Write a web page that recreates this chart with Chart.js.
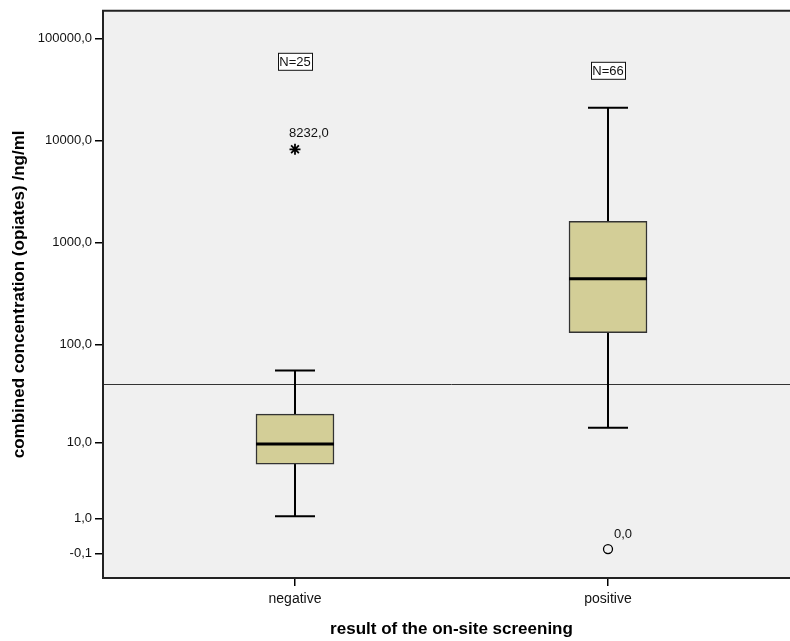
<!DOCTYPE html>
<html>
<head>
<meta charset="utf-8">
<script src="https://cdn.jsdelivr.net/npm/chart.js@4.4.0/dist/chart.umd.min.js"></script>
<style>
  html, body { margin: 0; padding: 0; background: #fff; overflow: hidden; }
  #wrap { width: 800px; height: 641px; }
</style>
</head>
<body>
<div id="wrap"><canvas id="boxChart" width="800" height="641"></canvas></div>
<script>
// data (ng/ml)
const categories = ['negative', 'positive'];
const groupN = [25, 66];
const whiskerLow = [1.1, 14.4];
const q1 = [5.8, 131];
const median = [9.7, 443];
const q3 = [20, 1618];
const whiskerHigh = [55, 21000];
const extremes = [8232];      // star, negative group
const extremeCat = [1];
const outliers = [0];         // circle, positive group
const outlierCat = [2];
const cutoff = 40;
const yTickValues = [100000, 10000, 1000, 100, 10, 1, -0.1];
const yTickLabels = ['100000,0', '10000,0', '1000,0', '100,0', '10,0', '1,0', '-0,1'];

// axis is log10(x + 1)
const tf = v => Math.log10(v + 1);
const fmt = v => v.toFixed(1).replace('.', ',');

const FONT = 'Arial, "Liberation Sans", sans-serif';

const boxPlugin = {
    id: 'boxPlugin',
    beforeDraw(chart) {
        const {ctx, chartArea: a} = chart;
        ctx.save();
        ctx.fillStyle = '#F0F0F0';
        ctx.fillRect(a.left, a.top, a.right - a.left, a.bottom - a.top);
        ctx.restore();
    },
    beforeDatasetsDraw(chart) {
        const {ctx, chartArea: a, scales: {x, y}} = chart;
        ctx.save();
        // reference line
        const yc = Math.round(y.getPixelForValue(tf(cutoff))) + 0.5;
        ctx.strokeStyle = '#333';
        ctx.lineWidth = 1;
        ctx.beginPath();
        ctx.moveTo(a.left, yc);
        ctx.lineTo(a.right, yc);
        ctx.stroke();
        // whiskers
        ctx.strokeStyle = '#000';
        ctx.lineWidth = 2;
        categories.forEach((c, i) => {
            const cx = x.getPixelForValue(i + 1);
            const hi = y.getPixelForValue(tf(whiskerHigh[i]));
            const lo = y.getPixelForValue(tf(whiskerLow[i]));
            ctx.beginPath();
            ctx.moveTo(cx, hi);
            ctx.lineTo(cx, y.getPixelForValue(tf(q3[i])));
            ctx.moveTo(cx, y.getPixelForValue(tf(q1[i])));
            ctx.lineTo(cx, lo);
            ctx.moveTo(cx - 20, hi);
            ctx.lineTo(cx + 20, hi);
            ctx.moveTo(cx - 20, lo);
            ctx.lineTo(cx + 20, lo);
            ctx.stroke();
        });
        ctx.restore();
    },
    afterDatasetsDraw(chart) {
        const {ctx, chartArea: a, scales: {x, y}} = chart;
        ctx.save();
        // medians
        ctx.strokeStyle = '#000';
        ctx.lineWidth = 3;
        categories.forEach((c, i) => {
            const cx = x.getPixelForValue(i + 1);
            const my = y.getPixelForValue(tf(median[i]));
            ctx.beginPath();
            ctx.moveTo(cx - 39, my);
            ctx.lineTo(cx + 39, my);
            ctx.stroke();
        });
        // frame: top, left, bottom
        ctx.strokeStyle = '#222';
        ctx.lineWidth = 2;
        ctx.beginPath();
        ctx.moveTo(a.right, a.top);
        ctx.lineTo(a.left, a.top);
        ctx.lineTo(a.left, a.bottom);
        ctx.lineTo(a.right, a.bottom);
        ctx.stroke();
        // point labels
        ctx.fillStyle = '#111';
        ctx.font = '13px ' + FONT;
        ctx.textAlign = 'left';
        ctx.textBaseline = 'middle';
        extremes.forEach((v, i) => {
            ctx.fillText(fmt(v), x.getPixelForValue(extremeCat[i]) - 6, y.getPixelForValue(tf(v)) - 16);
        });
        outliers.forEach((v, i) => {
            ctx.fillText(fmt(v), x.getPixelForValue(outlierCat[i]) + 6, y.getPixelForValue(tf(v)) - 15);
        });
        // N boxes
        const nTop = [a.top + 51, a.top + 60];
        ctx.textAlign = 'center';
        groupN.forEach((n, i) => {
            const cx = x.getPixelForValue(i + 1);
            const label = 'N=' + n;
            const w = ctx.measureText(label).width + 3;
            ctx.fillStyle = '#fff';
            ctx.fillRect(cx - w / 2, nTop[i] - 9, w, 18);
            ctx.strokeStyle = '#111';
            ctx.lineWidth = 1;
            ctx.strokeRect(Math.round(cx - w / 2) + 0.5, nTop[i] - 8.5, Math.round(w), 17);
            ctx.fillStyle = '#111';
            ctx.fillText(label, cx, nTop[i] + 0.5);
        });
        ctx.restore();
    }
};

document.addEventListener('DOMContentLoaded', () => {
    const ctx = document.getElementById('boxChart').getContext('2d');
    new Chart(ctx, {
        type: 'bar',
        data: {
            datasets: [
                {
                    label: 'box',
                    data: categories.map((c, i) => ({x: i + 1, y: [tf(q1[i]), tf(q3[i])]})),
                    backgroundColor: '#D3CE97',
                    borderColor: '#333',
                    borderWidth: 1.5,
                    borderSkipped: false,
                    barThickness: 78,
                    grouped: false
                },
                {
                    type: 'scatter',
                    label: 'extreme',
                    data: extremes.map((v, i) => ({x: extremeCat[i], y: tf(v)})),
                    pointStyle: 'star',
                    radius: 5.5,
                    borderColor: '#000',
                    borderWidth: 1.8
                },
                {
                    type: 'scatter',
                    label: 'outlier',
                    data: outliers.map((v, i) => ({x: outlierCat[i], y: tf(v)})),
                    pointStyle: 'circle',
                    radius: 4.5,
                    backgroundColor: '#F0F0F0',
                    borderColor: '#000',
                    borderWidth: 1.3
                }
            ]
        },
        options: {
            responsive: false,
            animation: false,
            layout: { autoPadding: false, padding: { top: 7, right: 0, left: 0, bottom: 0 } },
            scales: {
                x: {
                    type: 'linear',
                    offset: false,
                    min: 0.3866,
                    max: 2.6134,
                    afterBuildTicks: (scale) => {
                        scale.ticks = categories.map((c, i) => ({value: i + 1}));
                    },
                    afterFit: (scale) => { scale.height = 63; },
                    ticks: {
                        callback: (value) => categories[value - 1],
                        color: '#111',
                        font: { size: 14, family: FONT },
                        padding: 5,
                        maxRotation: 0,
                        autoSkip: false
                    },
                    grid: {
                        offset: false,
                        drawOnChartArea: false,
                        drawTicks: true,
                        tickLength: 8,
                        color: '#000',
                        lineWidth: 1.5
                    },
                    border: { display: false },
                    title: {
                        display: true,
                        text: 'result of the on-site screening',
                        color: '#000',
                        font: { size: 17, weight: 'bold', family: FONT },
                        padding: { top: 0, bottom: 1 }
                    }
                },
                y: {
                    type: 'linear',
                    min: -0.283,
                    max: 5.272,
                    afterBuildTicks: (scale) => {
                        scale.ticks = yTickValues.map(v => ({value: tf(v)}));
                    },
                    afterFit: (scale) => { scale.width = 103; },
                    ticks: {
                        callback: (value, index) => yTickLabels[index],
                        color: '#111',
                        font: { size: 13, family: FONT },
                        padding: 3,
                        autoSkip: false
                    },
                    grid: {
                        drawOnChartArea: false,
                        drawTicks: true,
                        tickLength: 8,
                        color: '#000',
                        lineWidth: 1.5
                    },
                    border: { display: false },
                    title: {
                        display: true,
                        text: 'combined concentration (opiates) /ng/ml',
                        color: '#000',
                        font: { size: 17, weight: 'bold', family: FONT },
                        padding: { top: 9, bottom: 0 }
                    }
                }
            },
            plugins: {
                legend: { display: false },
                tooltip: { enabled: false }
            }
        },
        plugins: [boxPlugin]
    });
});
</script>
</body>
</html>
